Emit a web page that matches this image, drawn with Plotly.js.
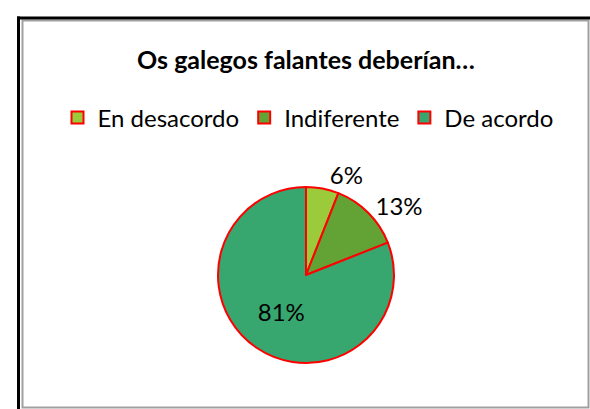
<!DOCTYPE html>
<html>
<head>
<meta charset="utf-8">
<script src="https://cdn.plot.ly/plotly-3.0.1.min.js"></script>
<style>html,body{margin:0;padding:0;background:#fff;}#chart{width:590px;height:409px;}</style>
</head>
<body>
<div id="chart"></div>
<script>
const categories = ["En desacordo", "Indiferente", "De acordo"];
const values = [6, 13, 81];
const sliceColors = ["#9BCB3B", "#63A335", "#38A76F"];
const chartTitle = "Os galegos falantes deberían…";

const W = 590, H = 409;
const px = x => x / W;
const py = y => 1 - y / H;

const trace = {
  type: "pie",
  labels: categories,
  values: values,
  sort: false,
  direction: "clockwise",
  rotation: 0,
  marker: { colors: sliceColors, line: { color: "#FF0000", width: 2 } },
  textinfo: "percent",
  texttemplate: "%{percent:.0%}",
  textposition: ["outside", "outside", "inside"],
  insidetextorientation: "horizontal",
  textfont: { family: "Lato, sans-serif", size: 24, color: "#000" },
  outsidetextfont: { family: "Lato, sans-serif", size: 24, color: "#000" },
  insidetextfont: { family: "Lato, sans-serif", size: 24, color: "#000" },
  domain: { x: [px(218), px(394)], y: [py(363), py(187)] },
  hoverinfo: "none"
};

const layout = {
  width: W, height: H,
  margin: { l: 0, r: 0, t: 0, b: 0 },
  paper_bgcolor: "#fff",
  font: { family: "Lato, sans-serif", color: "#000" },
  title: {
    text: "<b>" + chartTitle + "</b>",
    x: px(306), xanchor: "center", xref: "paper",
    y: py(60), yanchor: "middle", yref: "paper",
    font: { family: "Lato, sans-serif", size: 25, color: "#000" }
  },
  showlegend: true,
  legend: {
    orientation: "h",
    x: px(308), xanchor: "center",
    y: py(118), yanchor: "middle",
    font: { family: "Lato, sans-serif", size: 24, color: "#000" },
    traceorder: "normal",
    itemclick: false
  },
  shapes: [
    { type: "rect", xref: "paper", yref: "paper", x0: px(22.5), x1: px(588.5), y0: py(407.5), y1: py(20.5), line: { color: "#A0A0A0", width: 2 }, fillcolor: "rgba(0,0,0,0)", layer: "below" },
    { type: "line", xref: "paper", yref: "paper", x0: px(17), x1: px(590), y0: py(18), y1: py(18), line: { color: "#000", width: 3 } },
    { type: "line", xref: "paper", yref: "paper", x0: px(18.5), x1: px(18.5), y0: py(16.5), y1: py(409), line: { color: "#000", width: 3 } }
  ]
};

Plotly.newPlot("chart", [trace], layout, { staticPlot: true, displayModeBar: false });
</script>
</body>
</html>
